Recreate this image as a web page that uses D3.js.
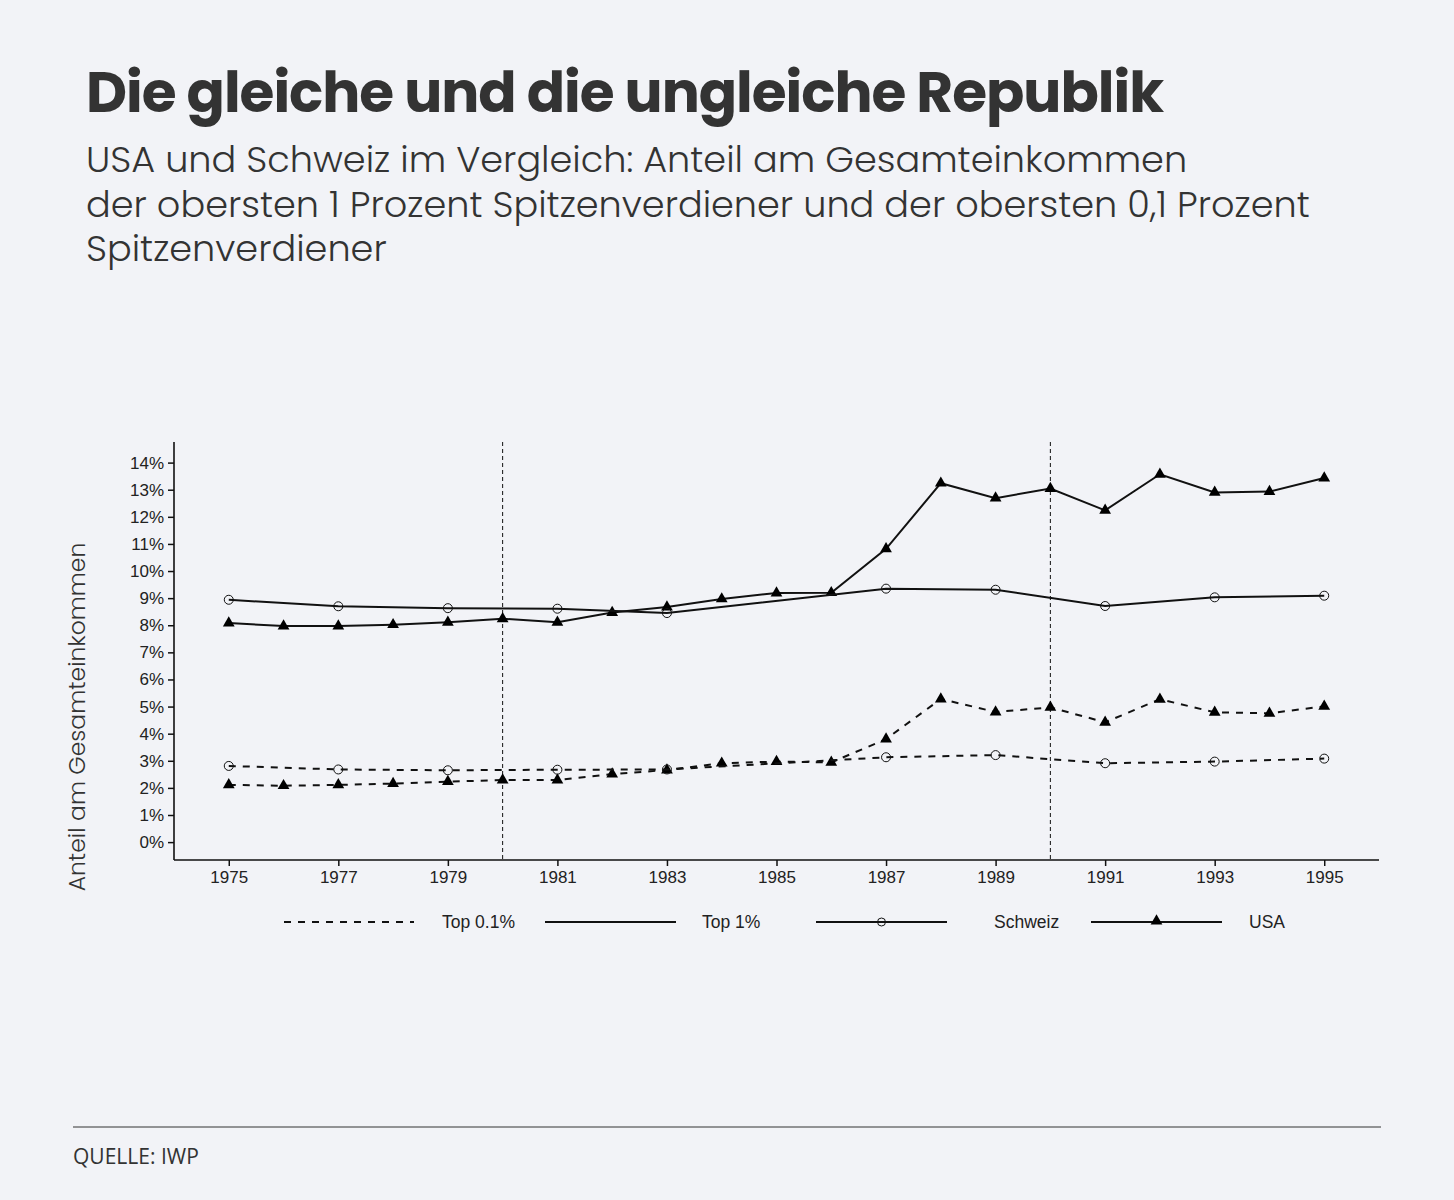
<!DOCTYPE html>
<html>
<head>
<meta charset="utf-8">
<script src="https://cdn.jsdelivr.net/npm/d3@7"></script>
<style>
  html, body { margin: 0; padding: 0; background: #f2f3f7; }
  svg { display: block; }
</style>
</head>
<body>
<svg id="chart" width="1454" height="1200"></svg>
<script>
// data (share of total income, in %)
var usaYears = [1975, 1976, 1977, 1978, 1979, 1980, 1981, 1982, 1983, 1984, 1985,
                1986, 1987, 1988, 1989, 1990, 1991, 1992, 1993, 1994, 1995];
var usaTop1 = [8.08, 7.97, 7.97, 8.02, 8.11, 8.24, 8.11, 8.47, 8.67, 8.97, 9.19,
               9.20, 10.82, 13.24, 12.69, 13.04, 12.24, 13.57, 12.90, 12.93, 13.43];
var usaTop01 = [2.11, 2.08, 2.11, 2.16, 2.23, 2.29, 2.29, 2.51, 2.66, 2.91, 2.97,
                2.94, 3.80, 5.28, 4.80, 4.97, 4.42, 5.27, 4.79, 4.75, 5.01];

var chYears = [1975, 1977, 1979, 1981, 1983, 1987, 1989, 1991, 1993, 1995];
var chTop1 = [8.94, 8.70, 8.63, 8.61, 8.45, 9.35, 9.31, 8.71, 9.03, 9.09];
var chTop01 = [2.81, 2.68, 2.65, 2.67, 2.68, 3.13, 3.21, 2.91, 2.97, 3.08];

var xTicks = [1975, 1977, 1979, 1981, 1983, 1985, 1987, 1989, 1991, 1993, 1995];
var yTicks = [0, 1, 2, 3, 4, 5, 6, 7, 8, 9, 10, 11, 12, 13, 14];
var markYears = [1980, 1990];

var legendItems = ["Top 0.1%", "Top 1%", "Schweiz", "USA"];

var svg = d3.select("#chart");
var ink = "#333";

// headings
var title = svg.append("text")
    .attr("x", 86).attr("y", 112)
    .attr("font-family", "Poppins, Inter, 'Open Sans', sans-serif")
    .attr("font-weight", 700)
    .attr("font-size", 56)
    .attr("fill", ink)
    .style("letter-spacing", "-1px")
    .text("Die gleiche und die ungleiche Republik");
// fit to the width of the original heading
var tw = title.node().getComputedTextLength();
title.attr("font-size", 56 * 1077 / tw);

var subLines = [
  "USA und Schweiz im Vergleich: Anteil am Gesamteinkommen",
  "der obersten 1 Prozent Spitzenverdiener und der obersten 0,1 Prozent",
  "Spitzenverdiener"
];
// one text block, one tspan per line
var sub = svg.append("text")
    .attr("x", 86).attr("y", 172)
    .attr("font-family", "Poppins, 'Open Sans', sans-serif")
    .attr("font-weight", 300)
    .attr("font-size", 33)
    .attr("fill", ink);
sub.selectAll("tspan")
  .data(subLines)
  .enter().append("tspan")
    .attr("x", 86)
    .attr("dy", function (d, i) { return i === 0 ? 0 : 44.5; })
    .text(function (d) { return d; });
var sw = sub.select("tspan:nth-child(2)").node().getComputedTextLength();
sub.attr("font-size", 33 * 1224 / sw);

// scales
var x = d3.scaleLinear().domain([1974, 1996]).range([174, 1379]);
var y = d3.scaleLinear().domain([-0.66, 14.76]).range([860, 442]);

var axisFont = "'Liberation Sans', Arial, Helvetica, sans-serif";

// axes
var yAxis = svg.append("g")
    .attr("transform", "translate(174,0)")
    .call(d3.axisLeft(y).tickValues(yTicks).tickSize(6).tickPadding(4)
      .tickFormat(function (d) { return d + "%"; }));
var xAxis = svg.append("g")
    .attr("transform", "translate(0,860)")
    .call(d3.axisBottom(x).tickValues(xTicks).tickSize(6).tickPadding(5)
      .tickFormat(d3.format("d")));

[yAxis, xAxis].forEach(function (a) {
  a.select(".domain").attr("stroke", "#111").attr("stroke-width", 1.6);
  a.selectAll(".tick line").attr("stroke", "#111").attr("stroke-width", 1.5);
  a.selectAll(".tick text")
    .attr("font-family", axisFont)
    .attr("font-size", 17)
    .attr("fill", "#222");
});
// strip the end caps of the domain paths
yAxis.select(".domain").attr("d", "M0,442V860");
xAxis.select(".domain").attr("d", "M174,0H1379");

svg.append("text")
    .attr("transform", "translate(85,717) rotate(-90)")
    .attr("text-anchor", "middle")
    .attr("font-family", "Poppins, 'Open Sans', sans-serif")
    .attr("font-weight", 300)
    .attr("font-size", 23.5)
    .attr("fill", ink)
    .text("Anteil am Gesamteinkommen");

// reference years
svg.append("g").selectAll("line")
  .data(markYears)
  .enter().append("line")
    .attr("x1", function (d) { return x(d); })
    .attr("x2", function (d) { return x(d); })
    .attr("y1", 442).attr("y2", 860)
    .attr("stroke", "#111")
    .attr("stroke-width", 1)
    .attr("stroke-dasharray", "4,3");

// series
var series = [
  { years: usaYears, values: usaTop1, dash: null, mark: "tri" },
  { years: usaYears, values: usaTop01, dash: "7,7", mark: "tri" },
  { years: chYears, values: chTop1, dash: null, mark: "circ" },
  { years: chYears, values: chTop01, dash: "7,7", mark: "circ" }
];

var line = d3.line()
    .x(function (d) { return x(d[0]); })
    .y(function (d) { return y(d[1]); });

var tri = d3.symbol().type(d3.symbolTriangle).size(60);

series.forEach(function (s) {
  var pts = s.years.map(function (yr, i) { return [yr, s.values[i]]; });
  svg.append("path")
      .datum(pts)
      .attr("d", line)
      .attr("fill", "none")
      .attr("stroke", "#111")
      .attr("stroke-width", 2)
      .attr("stroke-dasharray", s.dash);

  var g = svg.append("g");
  if (s.mark === "tri") {
    g.selectAll("path")
      .data(pts)
      .enter().append("path")
        .attr("d", tri)
        .attr("transform", function (d) { return "translate(" + x(d[0]) + "," + y(d[1]) + ")"; })
        .attr("fill", "#000");
  } else {
    g.selectAll("circle")
      .data(pts)
      .enter().append("circle")
        .attr("cx", function (d) { return x(d[0]); })
        .attr("cy", function (d) { return y(d[1]); })
        .attr("r", 4.5)
        .attr("fill", "none")
        .attr("stroke", "#111")
        .attr("stroke-width", 1);
  }
});

// legend
var leg = svg.append("g").attr("font-family", axisFont).attr("font-size", 17.5).attr("fill", "#222");
var legLines = [
  { x1: 284, x2: 414, tx: 442, dash: "7,7", mark: null },
  { x1: 545, x2: 676, tx: 702, dash: null, mark: null },
  { x1: 816, x2: 947, tx: 994, dash: null, mark: "circ" },
  { x1: 1091, x2: 1222, tx: 1249, dash: null, mark: "tri" }
];
legLines.forEach(function (l, i) {
  leg.append("line")
      .attr("x1", l.x1).attr("x2", l.x2)
      .attr("y1", 922).attr("y2", 922)
      .attr("stroke", "#111").attr("stroke-width", 2)
      .attr("stroke-dasharray", l.dash);
  var mx = (l.x1 + l.x2) / 2;
  if (l.mark === "circ") {
    leg.append("circle").attr("cx", mx).attr("cy", 922).attr("r", 4)
        .attr("fill", "none").attr("stroke", "#111").attr("stroke-width", 1);
  } else if (l.mark === "tri") {
    leg.append("path").attr("d", tri).attr("transform", "translate(" + mx + ",921)").attr("fill", "#000");
  }
  leg.append("text")
      .attr("x", l.tx).attr("y", 928)
      .text(legendItems[i]);
});

// footer
svg.append("line")
    .attr("x1", 73).attr("x2", 1381)
    .attr("y1", 1127).attr("y2", 1127)
    .attr("stroke", "#333").attr("stroke-width", 1);
svg.append("text")
    .attr("x", 73).attr("y", 1164)
    .attr("font-family", "'Open Sans', sans-serif")
    .attr("font-size", 21)
    .attr("fill", ink)
    .text("QUELLE: IWP");
</script>
</body>
</html>
